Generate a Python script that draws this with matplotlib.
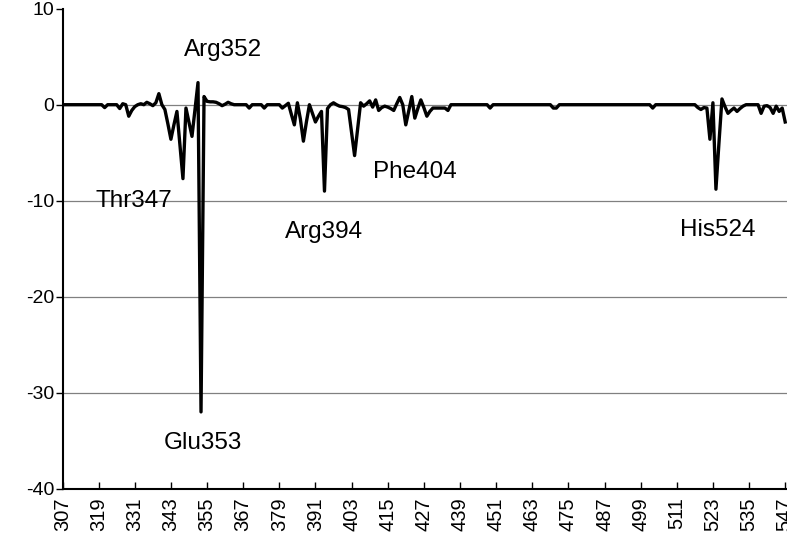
import numpy as np
import matplotlib
matplotlib.use("Agg")
import matplotlib.pyplot as plt

plt.rcParams['font.family'] = ['Liberation Sans', 'DejaVu Sans']
plt.rcParams['axes.unicode_minus'] = False

# residue range on the x axis
first_res = 307
last_res = 547
tick_step = 12

# residues whose energy differs from zero, and the energy at each
shift_res = [321, 326, 327, 329, 330, 331, 333, 335, 336, 337, 338, 339, 341,
             342, 343, 344, 345, 346, 347, 348, 349, 350, 351, 352, 353, 354,
             355, 356, 357, 358, 359, 360, 361, 362, 363, 369, 374, 380, 381,
             382, 383, 384, 385, 386, 387, 388, 390, 391, 392, 393, 394, 395,
             397, 399, 400, 401, 402, 403, 404, 405, 406, 407, 408, 409, 410,
             411, 412, 413, 414, 415, 416, 417, 418, 419, 421, 422, 423, 424,
             425, 426, 427, 428, 429, 430, 431, 432, 433, 434, 435, 449, 470,
             471, 503, 518, 519, 520, 521, 522, 523, 524, 525, 526, 527, 528,
             529, 530, 531, 532, 533, 539, 540, 541, 542, 543, 544, 545, 546,
             547]
shift_val = [-0.3, -0.4, 0.1, -1.2, -0.6, -0.2, 0.1, 0.25, 0.1, -0.1, 0.2, 1.15, -0.5,
             -2.0, -3.6, -2.1, -0.7, -4.2, -7.7, -0.35, -1.8, -3.3, -0.5, 2.3, -32.0, 0.85,
             0.35, 0.3, 0.3, 0.25, 0.1, -0.1, 0.05, 0.25, 0.1, -0.35, -0.35, -0.35, -0.1,
             0.15, -1.0, -2.1, 0.2, -1.5, -3.8, -1.8, -0.9, -1.8, -1.2, -0.7, -9.0, -0.4,
             0.2, -0.15, -0.2, -0.3, -0.5, -2.9, -5.3, -2.5, 0.2, -0.15, 0.1, 0.4, -0.25,
             0.5, -0.6, -0.3, -0.15, -0.25, -0.4, -0.6, 0.1, 0.75, -2.1, -0.6, 0.85, -1.4,
             -0.4, 0.5, -0.3, -1.2, -0.7, -0.35, -0.35, -0.35, -0.35, -0.35, -0.6, -0.35, -0.35,
             -0.35, -0.35, -0.3, -0.5, -0.3, -0.35, -3.6, 0.2, -8.8, -4.0, 0.6, -0.2, -0.9,
             -0.6, -0.35, -0.7, -0.4, -0.15, -0.9, -0.15, -0.1, -0.3, -0.9, -0.15, -0.7, -0.35,
             -1.8]

# labelled hot-spot residues and where their names sit
hot_names = ['Arg352', 'Thr347', 'Glu353', 'Arg394', 'Phe404', 'His524']
hot_x = [360.3, 330.7, 353.7, 393.8, 423.9, 524.5]
hot_y = [5.7, -10.0, -35.2, -13.3, -7.0, -13.0]

residues = np.arange(first_res, last_res + 1)
energy = np.zeros(len(residues))
for r, v in zip(shift_res, shift_val):
    energy[r - first_res] = v

fig = plt.figure(figsize=(7.87, 5.36), dpi=100)
ax = fig.add_axes([62.5 / 787, 47.3 / 536, (787 - 62.5) / 787, 480 / 536])

for yv in [0, -10, -20, -30]:
    ax.axhline(yv, color='#808080', lw=0.9, zorder=1)

ax.plot(residues, energy, color='black', lw=2.4, zorder=3)

for name, tx, ty in zip(hot_names, hot_x, hot_y):
    ax.text(tx, ty, name, ha='center', va='center', fontsize=17.5)

ax.set_xlim(first_res, 547.6)
ax.set_ylim(-40, 10)
ax.set_xticks(np.arange(first_res, last_res + 1, tick_step))
ax.set_xticklabels([str(t) for t in range(first_res, last_res + 1, tick_step)],
                   rotation=90, fontsize=14.5)
ax.set_yticks([10, 0, -10, -20, -30, -40])
ax.tick_params(axis='y', labelsize=14, direction='out', length=5, width=1, pad=1)
ax.tick_params(axis='x', direction='in', length=5, width=1, pad=6)

ax.spines['top'].set_visible(False)
ax.spines['right'].set_visible(False)
ax.spines['left'].set_linewidth(1.5)
ax.spines['bottom'].set_linewidth(1.5)

plt.savefig('out.png', dpi=100)
